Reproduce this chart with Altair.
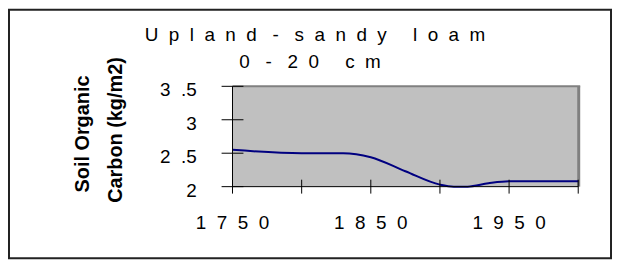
import altair as alt
import pandas as pd

# ---- data ----
years = [1750, 1800, 1830, 1850, 1875, 1900, 1910, 1920, 1935, 1950, 2000]
soc = [2.55, 2.50, 2.50, 2.44, 2.23, 2.03, 2.00, 2.00, 2.05, 2.08, 2.08]
x_ticks = [1750, 1800, 1850, 1900, 1950, 2000]
x_labelled = [1750, 1850, 1950]
y_ticks = [2.0, 2.5, 3.0, 3.5]
NB = "\u00a0"
y_labels = ["2", "2" + NB * 2 + ".5", "3", "3" + NB * 2 + ".5"]
x_labels = [(NB * 2).join(list(str(v))) for v in x_labelled]


def spaced(words, inner, gaps):
    """letter-spaced text as the original chart draws it"""
    out = ""
    for i, w in enumerate(words):
        out += (NB * inner).join(list(w))
        if i < len(gaps):
            out += NB * gaps[i]
    return out


title_line1 = spaced(["Upland", "-", "sandy", "loam"], 2, [3, 3, 5])
title_line2 = spaced(["0", "-", "20", "cm"], 2, [3, 3, 5])
ytitle_line1 = "Soil Organic"
ytitle_line2 = "Carbon (kg/m2)"

FONT = "Liberation Sans"

df = pd.DataFrame({"year": years, "soc": soc})
one = pd.DataFrame({"a": [0]})
xt = pd.DataFrame({"year": x_ticks})
xl = pd.DataFrame({"year": x_labelled, "lab": x_labels})
yt = pd.DataFrame({"soc": y_ticks, "lab": y_labels})

xscale = alt.Scale(domain=[1750, 2000], nice=False, zero=False)
yscale = alt.Scale(domain=[2.0, 3.5], nice=False, zero=False)

W, H = 348, 101
PADL, PADT = 226, 78


def X(field="year"):
    return alt.X(f"{field}:Q", scale=xscale, axis=None)


def Y(field="soc"):
    return alt.Y(f"{field}:Q", scale=yscale, axis=None)


line = alt.Chart(df).mark_line(color="#000080", strokeWidth=2, interpolate="monotone").encode(
    x=X(), y=Y())

# plot-area border (top & right, dark grey)
top_b = alt.Chart(one).mark_rule(color="#808080", strokeWidth=2).encode(
    x=alt.value(0), x2=alt.value(W + 2), y=alt.value(0))
right_b = alt.Chart(one).mark_rule(color="#808080", strokeWidth=3).encode(
    x=alt.value(W + 0.5), y=alt.value(0), y2=alt.value(H))

# axis lines
x_dom = alt.Chart(one).mark_rule(color="#000000", strokeWidth=1).encode(
    x=alt.value(0), x2=alt.value(W), y=alt.value(H))
y_dom = alt.Chart(one).mark_rule(color="#000000", strokeWidth=1).encode(
    x=alt.value(0), y=alt.value(0), y2=alt.value(H))

# cross ticks
xtick = alt.Chart(xt).mark_rule(color="#000000", strokeWidth=1).encode(
    x=X(), y=alt.value(H - 7), y2=alt.value(H + 7))
ytick = alt.Chart(yt).mark_rule(color="#000000", strokeWidth=1).encode(
    y=Y(), x=alt.value(-11), x2=alt.value(11))

# tick labels
xlab = alt.Chart(xl).mark_text(font=FONT, fontSize=19, color="#000000", align="center",
                               baseline="top").encode(
    x=X(), y=alt.value(H + 28), text="lab:N")
ylab = alt.Chart(yt).mark_text(font=FONT, fontSize=19, color="#000000", align="right",
                               baseline="middle", dy=4).encode(
    y=Y(), x=alt.value(-36), text="lab:N")

# outer chart border
outer = alt.Chart(one).mark_rect(fillOpacity=0, stroke="#222222", strokeWidth=2).encode(
    x=alt.value(-PADL + 1), x2=alt.value(607 - PADL),
    y=alt.value(-PADT + 1), y2=alt.value(251 - PADT))

t1 = alt.Chart(one).mark_text(font=FONT, fontSize=19, color="#000000", align="center",
                              baseline="middle").encode(
    x=alt.value(317 - 8 - PADL), y=alt.value(34 - 8 - PADT), text=alt.value(title_line1))
t2 = alt.Chart(one).mark_text(font=FONT, fontSize=19, color="#000000", align="center",
                              baseline="middle").encode(
    x=alt.value(312 - 8 - PADL), y=alt.value(62 - 8 - PADT), text=alt.value(title_line2))

yt1 = alt.Chart(one).mark_text(font=FONT, fontSize=20, fontWeight="bold", color="#000000",
                               align="center", baseline="middle", angle=270).encode(
    x=alt.value(84 - 8 - PADL), y=alt.value(134 - 8 - PADT), text=alt.value(ytitle_line1))
yt2 = alt.Chart(one).mark_text(font=FONT, fontSize=20, fontWeight="bold", color="#000000",
                               align="center", baseline="middle", angle=270).encode(
    x=alt.value(117 - 8 - PADL), y=alt.value(130 - 8 - PADT), text=alt.value(ytitle_line2))

chart = alt.layer(outer, top_b, right_b, line, x_dom, y_dom, xtick, ytick, xlab, ylab,
                  t1, t2, yt1, yt2).properties(
    width=W, height=H,
    autosize=alt.AutoSizeParams(type="none"),
    padding={"left": PADL, "top": PADT, "right": 609 - PADL - W, "bottom": 253 - PADT - H},
    background="#ffffff",
).configure_view(fill="#C0C0C0", stroke=None)

chart.save("out.html", embed_options={"renderer": "svg", "actions": False})
